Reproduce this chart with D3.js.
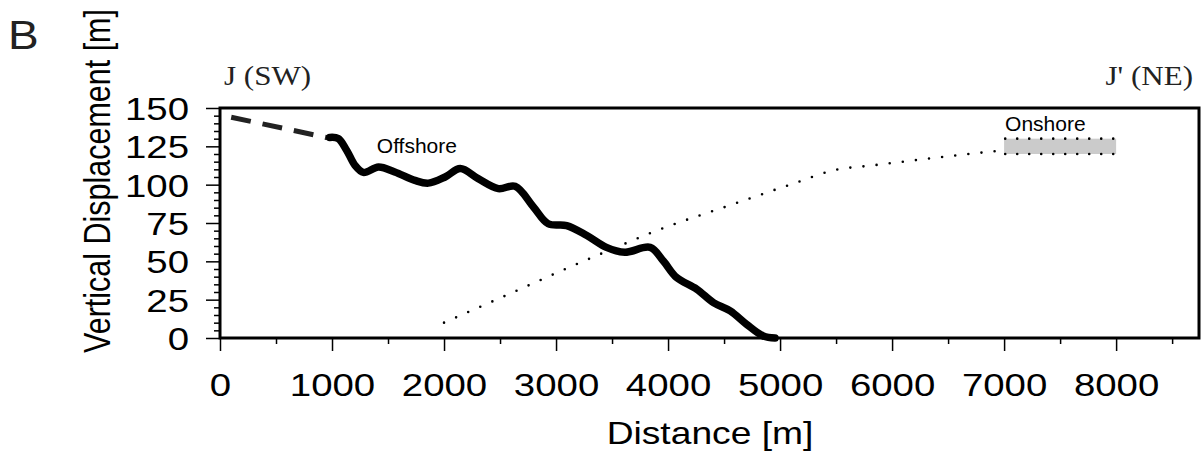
<!DOCTYPE html>
<html>
<head>
<meta charset="utf-8">
<script src="https://cdn.jsdelivr.net/npm/d3@7"></script>
<style>
  body { margin: 0; background: #fff; }
  svg { display: block; }
</style>
</head>
<body>
<div id="chart"></div>
<script>
// Profile J - J' : vertical displacement along distance
const offshoreX = [980, 1055, 1130, 1205, 1280, 1415, 1560, 1740, 1860, 2010, 2145, 2305, 2485, 2635,
                   2800, 2930, 3095, 3275, 3450, 3615, 3840, 3960, 4075, 4255, 4405, 4555, 4700, 4850, 4955];
const offshoreY = [130.8, 130.1, 122.5, 112.6, 108, 111.5, 108.3, 102.8, 101, 105, 110.5, 103.9, 97.4, 98.9,
                   85.3, 74.5, 73.3, 66.8, 59.1, 55.9, 59.1, 50, 39.5, 31.9, 23.1, 17.7, 9, 1.3, 0];

// dashed extrapolation before the offshore profile
const extrapX = [100, 1000];
const extrapY = [144, 130];

// dotted onshore trend
const onshoreX = [2000, 2560, 3100, 3500, 3880, 4570, 5130, 5480, 5830, 6500, 7000];
const onshoreY = [10, 28, 45.5, 58, 69.5, 87, 101, 109.4, 112.6, 118.5, 122.5];

// grey onshore band
const bandX = [7000, 8000];
const bandY = [120, 130];

const xTicks = [0, 1000, 2000, 3000, 4000, 5000, 6000, 7000, 8000];
const yTicks = [0, 25, 50, 75, 100, 125, 150];

const width = 1202, height = 455;
const plotL = 220, plotR = 1199, plotT = 108, plotB = 338;
const stretch = 1.2;   // the original lettering is wide

const svg = d3.select("#chart").append("svg")
    .attr("width", width)
    .attr("height", height)
    .style("font-family", "'Liberation Sans', Arial, sans-serif");

const x = d3.scaleLinear().domain([0, 8740]).range([plotL, plotR]);
const y = d3.scaleLinear().domain([0, 150]).range([plotB, plotT]);

// ── minor ticks ──────────────────────────────────────────────
const xMinor = d3.range(500, 8740, 500).filter(v => v % 1000 !== 0);
const yMinor = d3.range(5, 150, 5).filter(v => v % 25 !== 0);

svg.append("g")
    .attr("transform", `translate(0,${plotB})`)
    .call(d3.axisBottom(x).tickValues(xMinor).tickSize(6).tickSizeOuter(0).tickFormat(""))
    .call(g => g.select(".domain").remove())
    .selectAll("line").attr("stroke-width", 1.5);

svg.append("g")
    .attr("transform", `translate(${plotL},0)`)
    .call(d3.axisLeft(y).tickValues(yMinor).tickSize(6).tickSizeOuter(0).tickFormat(""))
    .call(g => g.select(".domain").remove())
    .selectAll("line").attr("stroke-width", 1.5);

// ── major ticks + labels ─────────────────────────────────────
const xAxis = svg.append("g")
    .attr("transform", `translate(0,${plotB})`)
    .call(d3.axisBottom(x).tickValues(xTicks).tickSize(13).tickSizeOuter(0).tickFormat(d3.format("d")))
    .call(g => g.select(".domain").remove());
xAxis.selectAll("line").attr("stroke-width", 1.5);
xAxis.selectAll("text")
    .attr("y", 58).attr("dy", null)
    .attr("font-size", 32)
    .attr("fill", "#000")
    .attr("transform", `scale(${stretch},1)`);

const yAxis = svg.append("g")
    .attr("transform", `translate(${plotL},0)`)
    .call(d3.axisLeft(y).tickValues(yTicks).tickSize(14).tickSizeOuter(0))
    .call(g => g.select(".domain").remove());
yAxis.selectAll("line").attr("stroke-width", 1.5);
yAxis.selectAll("text")
    .attr("x", -31 / stretch)
    .attr("dy", "0.36em")
    .attr("font-size", 32)
    .attr("fill", "#000")
    .attr("transform", `scale(${stretch},1)`);

// ── frame ────────────────────────────────────────────────────
svg.append("rect")
    .attr("x", plotL).attr("y", plotT)
    .attr("width", plotR - plotL).attr("height", plotB - plotT)
    .attr("fill", "none")
    .attr("stroke", "#000")
    .attr("stroke-width", 3);

// ── onshore band ─────────────────────────────────────────────
svg.append("rect")
    .attr("x", x(bandX[0])).attr("y", y(bandY[1]))
    .attr("width", x(bandX[1]) - x(bandX[0]))
    .attr("height", y(bandY[0]) - y(bandY[1]))
    .attr("fill", "#cbcbcb");

const line = d3.line().x(d => x(d[0])).y(d => y(d[1]));

bandY.forEach(v => {
    svg.append("path")
        .attr("d", line([[bandX[0] + 10, v], [bandX[1], v]]))
        .attr("fill", "none")
        .attr("stroke", "#000")
        .attr("stroke-width", 2.6)
        .attr("stroke-linecap", "round")
        .attr("stroke-dasharray", "0,12");
});

// ── dotted onshore trend ─────────────────────────────────────
svg.append("path")
    .attr("d", d3.line().x(d => x(d[0])).y(d => y(d[1])).curve(d3.curveMonotoneX)(d3.zip(onshoreX, onshoreY)))
    .attr("fill", "none")
    .attr("stroke", "#000")
    .attr("stroke-width", 2.6)
    .attr("stroke-linecap", "round")
    .attr("stroke-dasharray", "0,13.2");

// ── dashed extrapolation ─────────────────────────────────────
svg.append("path")
    .attr("d", line(d3.zip(extrapX, extrapY)))
    .attr("fill", "none")
    .attr("stroke", "#222")
    .attr("stroke-width", 5)
    .attr("stroke-dasharray", "20,12");

// ── offshore profile ─────────────────────────────────────────
svg.append("path")
    .attr("d", d3.line().x(d => x(d[0])).y(d => y(d[1])).curve(d3.curveCatmullRom.alpha(0.5))(d3.zip(offshoreX, offshoreY)))
    .attr("fill", "none")
    .attr("stroke", "#000")
    .attr("stroke-width", 7.5)
    .attr("stroke-linecap", "round")
    .attr("stroke-linejoin", "round");

// ── annotations ──────────────────────────────────────────────
svg.append("text")
    .attr("x", x(1400)).attr("y", 153)
    .attr("font-size", 21)
    .text("Offshore");

svg.append("text")
    .attr("x", x(7000) + 1).attr("y", 131)
    .attr("font-size", 21)
    .text("Onshore");

svg.append("text")
    .attr("transform", `translate(224,85) scale(1.15,1)`)
    .attr("font-family", "'Liberation Serif', 'Times New Roman', serif")
    .attr("font-size", 27)
    .attr("fill", "#222")
    .text("J (SW)");

svg.append("text")
    .attr("transform", `translate(1193,85) scale(1.15,1)`)
    .attr("text-anchor", "end")
    .attr("font-family", "'Liberation Serif', 'Times New Roman', serif")
    .attr("font-size", 27)
    .attr("fill", "#222")
    .text("J' (NE)");

svg.append("text")
    .attr("transform", `translate(8,49) scale(1.15,1)`)
    .attr("font-size", 40)
    .attr("fill", "#222")
    .text("B");

// axis titles
svg.append("text")
    .attr("transform", `translate(710,444) scale(${stretch},1)`)
    .attr("text-anchor", "middle")
    .attr("font-size", 31)
    .text("Distance [m]");

svg.append("text")
    .attr("transform", `translate(110,181) scale(${stretch},1) rotate(-90)`)
    .attr("text-anchor", "middle")
    .attr("font-size", 30.5)
    .text("Vertical Displacement [m]");
</script>
</body>
</html>
